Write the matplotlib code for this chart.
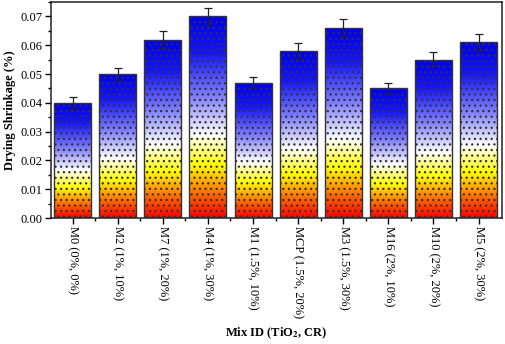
import numpy as np
import matplotlib
matplotlib.use("Agg")
import matplotlib.pyplot as plt
from matplotlib.colors import LinearSegmentedColormap
from matplotlib.ticker import MultipleLocator, FixedLocator, FormatStrFormatter

plt.rcParams['font.family'] = ['Liberation Serif', 'DejaVu Serif']
plt.rcParams['mathtext.fontset'] = 'stix'
plt.rcParams['hatch.color'] = '#505050'
plt.rcParams['hatch.linewidth'] = 0.9

mixes = ['M0 (0%, 0%)', 'M2 (1%, 10%)', 'M7 (1%, 20%)', 'M4 (1%, 30%)',
         'M1 (1.5%, 10%)', 'MCP (1.5%, 20%)', 'M3 (1.5%, 30%)',
         'M16 (2%, 10%)', 'M10 (2%, 20%)', 'M5 (2%, 30%)']
shrinkage = [0.040, 0.050, 0.062, 0.070, 0.047, 0.058, 0.066, 0.045, 0.055, 0.061]
errors = [0.002, 0.002, 0.0028, 0.003, 0.002, 0.0028, 0.003, 0.002, 0.0025, 0.003]

cmap = LinearSegmentedColormap.from_list('grad', [
    (0.0, '#ff0000'), (0.1, '#ff5a00'), (0.17, '#ffa000'), (0.26, '#ffff00'),
    (0.41, '#ffffff'), (0.6, '#8080ff'), (0.82, '#1515ff'), (1.0, '#0000ee')])

fig = plt.figure(figsize=(5.05, 3.44), dpi=100)
ax = fig.add_axes([0.101, 0.366, 0.893, 0.628])

x = np.arange(len(mixes))
width = 0.82
bars = ax.bar(x, shrinkage, width, color='none', edgecolor='#333333',
              linewidth=1.0, hatch='...', zorder=3)
grad = np.linspace(0, 1, 256).reshape(-1, 1)
for b in bars:
    x0, h = b.get_x(), b.get_height()
    im = ax.imshow(grad, cmap=cmap, origin='lower', aspect='auto',
                   extent=[x0, x0 + width, 0, h], zorder=2)
    im.set_clip_path(b)
ax.errorbar(x, shrinkage, yerr=errors, fmt='none', ecolor='#222222',
            elinewidth=0.9, capsize=3, capthick=0.9, zorder=4)

ax.set_xlim(-0.48, 9.52)
ax.set_ylim(0, 0.075)
ax.set_xticks(x)
ax.set_xticklabels(mixes, rotation=270, fontsize=9)
ax.xaxis.set_minor_locator(FixedLocator(x[:-1] + 0.5))
ax.yaxis.set_major_locator(MultipleLocator(0.01))
ax.yaxis.set_minor_locator(MultipleLocator(0.005))
ax.yaxis.set_major_formatter(FormatStrFormatter('%.2f'))
ax.tick_params(axis='both', which='major', direction='out', length=4,
               width=1, labelsize=9, top=False, right=False, pad=2)
ax.tick_params(axis='both', which='minor', direction='out', length=2.5,
               width=1, top=False, right=False)
for s in ax.spines.values():
    s.set_linewidth(1.1)
    s.set_color('#222222')

ax.set_ylabel('Drying Shrinkage (%)', fontsize=9, fontweight='bold', labelpad=3)
ax.set_xlabel('Mix ID (TiO$_\\mathbf{2}$, CR)', fontsize=9, fontweight='bold', labelpad=5)

fig.savefig('out.png', dpi=100)
